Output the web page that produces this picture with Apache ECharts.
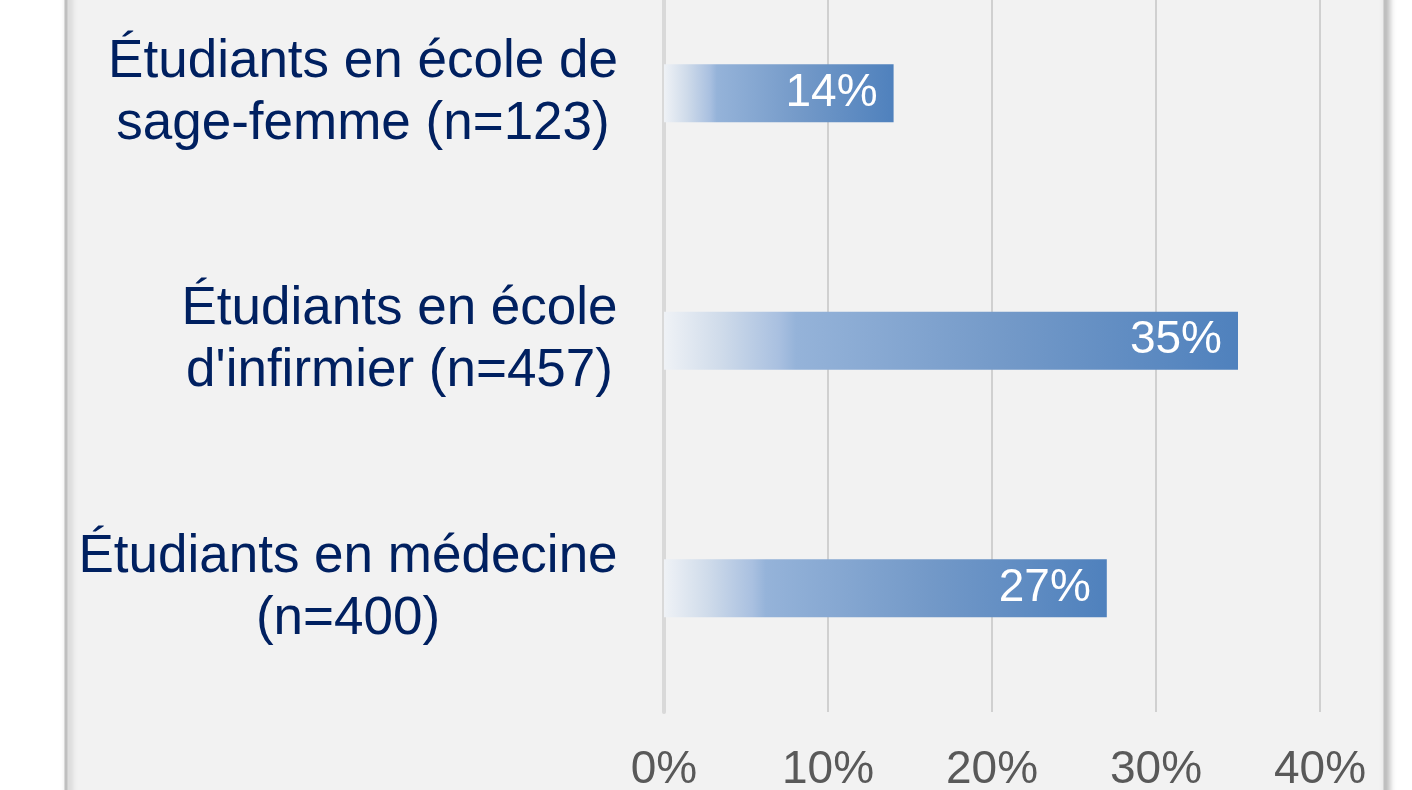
<!DOCTYPE html>
<html>
<head>
<meta charset="utf-8">
<script src="https://cdn.jsdelivr.net/npm/echarts@6/dist/echarts.min.js"></script>
<style>
html,body{margin:0;padding:0;background:#ffffff;overflow:hidden;}
#chart{position:absolute;left:0;top:-31px;width:1412px;height:821px;}
</style>
</head>
<body>
<div id="chart"></div>
<script>
const categories = ["Étudiants en école de\nsage-femme (n=123)", "Étudiants en école\nd'infirmier (n=457)", "Étudiants en médecine\n(n=400)"];
const values = [14, 35, 27];
const xTicks = [0, 10, 20, 30, 40];

const FONT = '"Liberation Sans", Arial, sans-serif';
const CAT_SIZE = 53;
const ctx = document.createElement('canvas').getContext('2d');
ctx.font = CAT_SIZE + 'px ' + FONT;
const rich = {};
categories.forEach(function (c, i) {
  const w = Math.max.apply(null, c.split('\n').map(function (s) { return ctx.measureText(s).width; }));
  rich['r' + i] = {width: Math.ceil(w), align: 'center', color: '#002060', fontSize: CAT_SIZE,
    lineHeight: 62, fontFamily: FONT};
});

const chart = echarts.init(document.getElementById('chart'), null, {renderer: 'canvas'});
const grad = new echarts.graphic.LinearGradient(0, 0, 1, 0, [
  {offset: 0, color: '#eff2f6'},
  {offset: 0.1, color: '#cfdbea'},
  {offset: 0.2, color: '#a9c0e0'},
  {offset: 0.23, color: '#95b3d9'},
  {offset: 0.6, color: '#7399c8'},
  {offset: 1, color: '#4f81bd'}
]);
chart.setOption({
  backgroundColor: '#ffffff',
  animation: false,
  graphic: [{
    type: 'rect', z: -10, silent: true,
    shape: {x: 66, y: -10, width: 1319, height: 850},
    style: {fill: '#f2f2f2', stroke: '#bfbfbf', lineWidth: 3,
      shadowColor: 'rgba(0,0,0,0.25)', shadowBlur: 6, shadowOffsetX: 3}
  }],
  grid: {left: 664, right: 92, top: 0.5, bottom: 78, containLabel: false, outerBoundsMode: 'none'},
  xAxis: {
    type: 'value', min: xTicks[0], max: xTicks[xTicks.length - 1], interval: 10,
    axisLine: {show: false}, axisTick: {show: false},
    splitLine: {show: true, lineStyle: {color: '#d0d0d0', width: 2}},
    axisLabel: {formatter: '{value}%', color: '#595959', fontSize: 46,
      fontFamily: FONT, margin: 35}
  },
  yAxis: {
    type: 'category', data: categories, inverse: true,
    axisLine: {show: true, lineStyle: {color: '#d9d9d9', width: 4}},
    axisTick: {show: false},
    axisLabel: {
      align: 'right', margin: 46, rich: rich,
      formatter: function (value, index) {
        return value.split('\n').map(function (s) { return '{r' + index + '|' + s + '}'; }).join('\n');
      }
    }
  },
  series: [{
    type: 'bar', data: values, barWidth: 58,
    itemStyle: {color: grad},
    label: {show: true, position: 'insideRight', distance: 16, formatter: '{c}%',
      color: '#ffffff', fontSize: 46, fontFamily: FONT}
  }]
});
</script>
</body>
</html>
